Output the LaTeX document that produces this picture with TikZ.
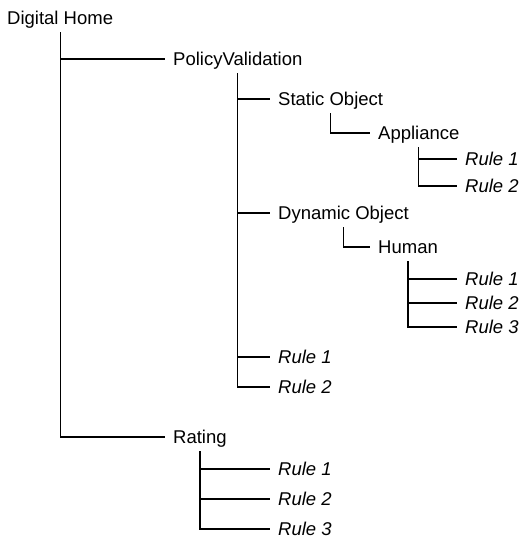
\documentclass[tikz,border=0pt]{standalone}
\usepackage{fontspec}
\setmainfont{Liberation Sans}
\usetikzlibrary{positioning}

\tikzset{
    item/.style={
        anchor=west,
        inner xsep=8pt,
        inner ysep=7.5pt,
        text height=13pt,
        text depth=0pt,
        font=\fontsize{18.5}{20}\selectfont
    },
    leaf/.style={
        item,
        font=\fontsize{18.5}{20}\selectfont\itshape
    },
    branch/.style={
        line width=1.2pt
    }
}

\begin{document}
\begin{tikzpicture}[x=1pt,y=-1pt]
            \useasboundingbox (0,0) rectangle (520,539);
            % top level
            \node[item] (home) at (-1,18) {Digital Home};
            \node[item] (policy) at (165,59) {PolicyValidation};
            \node[item] (rating) at (165,437) {Rating};
            % objects under the policy check
            \node[item] (static) at (270,99) {Static Object};
            \node[item] (appliance) at (370,133) {Appliance};
            \node[leaf] (appR1) at (457,159) {Rule 1};
            \node[leaf] (appR2) at (457,186) {Rule 2};
            \node[item] (dynamic) at (270,213) {Dynamic Object};
            \node[item] (human) at (370,247) {Human};
            \node[leaf] (humR1) at (457,279) {Rule 1};
            \node[leaf] (humR2) at (457,303) {Rule 2};
            \node[leaf] (humR3) at (457,327) {Rule 3};
            \node[leaf] (polR1) at (270,357) {Rule 1};
            \node[leaf] (polR2) at (270,387) {Rule 2};
            % rating rules
            \node[leaf] (ratR1) at (270,469) {Rule 1};
            \node[leaf] (ratR2) at (270,499) {Rule 2};
            \node[leaf] (ratR3) at (270,529) {Rule 3};

            % elbows from each parent down to its children
            \draw[branch] (home.south) |- (policy.west);
            \draw[branch] (home.south) |- (rating.west);
            \draw[branch] (policy.south) |- (static.west);
            \draw[branch] (policy.south) |- (dynamic.west);
            \draw[branch] (policy.south) |- (polR1.west);
            \draw[branch] (policy.south) |- (polR2.west);
            \draw[branch] (static.south) |- (appliance.west);
            \draw[branch] (appliance.south) |- (appR1.west);
            \draw[branch] (appliance.south) |- (appR2.west);
            \draw[branch] (dynamic.south) |- (human.west);
            \draw[branch] (human.south) |- (humR1.west);
            \draw[branch] (human.south) |- (humR2.west);
            \draw[branch] (human.south) |- (humR3.west);
            \draw[branch] (rating.south) |- (ratR1.west);
            \draw[branch] (rating.south) |- (ratR2.west);
            \draw[branch] (rating.south) |- (ratR3.west);
\end{tikzpicture}
\end{document}
